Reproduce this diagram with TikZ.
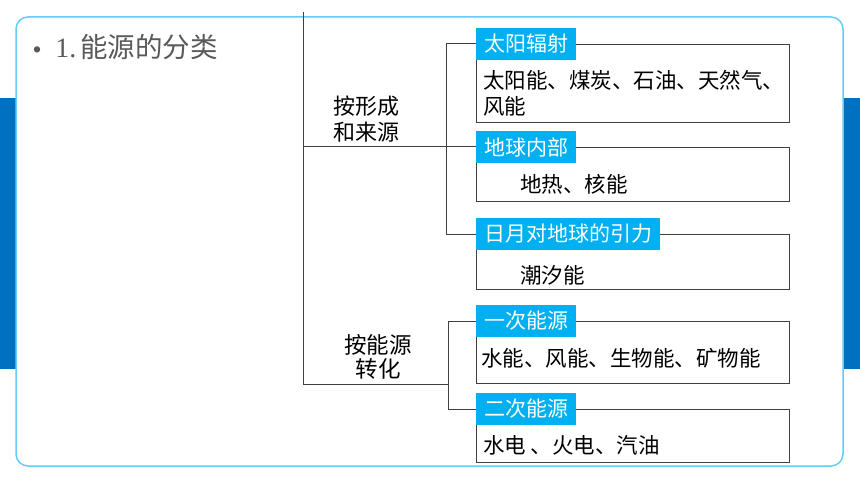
\documentclass[tikz,border=0pt]{standalone}
\usepackage{fontspec}
\setmainfont{Noto Sans CJK SC}
\newfontfamily\serifnum{Liberation Serif}
\newfontfamily\bulletfont{Liberation Sans}
\definecolor{bandblue}{HTML}{0070C0}
\definecolor{frameblue}{HTML}{66CCF5}
\definecolor{labblue}{HTML}{00B0F0}
\definecolor{linegray}{HTML}{404040}
\definecolor{titlegray}{HTML}{595959}
\tikzset{
 catbox/.style={draw=linegray, line width=1pt, minimum width=313pt, inner sep=0pt, anchor=north west},
 lab/.style={fill=labblue, text=white, font=\fontsize{21}{21}\selectfont, inner xsep=8pt, inner ysep=0pt, minimum height=32pt, anchor=west},
 item/.style={font=\fontsize{21.5}{26}\selectfont, inner sep=0pt, anchor=west, align=left, text=black},
 cat/.style={font=\fontsize{22}{26}\selectfont, inner sep=0pt, align=center, text=black},
 tree/.style={draw=linegray, line width=1pt}
}
\begin{document}
\begin{tikzpicture}[x=1pt,y=-1pt]
\fill[white] (0,0) rectangle (860,484);
\useasboundingbox (0,0) rectangle (860,484);
% side bands and frame
\fill[bandblue] (0,98) rectangle (16,369);
\fill[bandblue] (843,98) rectangle (860,369);
\draw[frameblue, line width=1.5pt, fill=white, rounded corners=12pt] (16,17) rectangle (843,466);
% title
\node[anchor=base west, inner sep=0pt, text=titlegray, font=\fontsize{27.5}{30}\selectfont] (title) at (33,58)
  {{\bulletfont\fontsize{23}{23}\selectfont •}\hspace{14pt}{\serifnum\fontsize{28}{30}\selectfont 1.}\hspace{4pt}能源的分类};
% boxes
\node[catbox, minimum height=78pt] (b1) at (476,44) {};
\node[catbox, minimum height=54pt] (b2) at (476,147) {};
\node[catbox, minimum height=55pt] (b3) at (476,234) {};
\node[catbox, minimum height=62pt] (b4) at (476,321) {};
\node[catbox, minimum height=53pt] (b5) at (476,409) {};
% box texts
\node[item] (t1) at (483,93) {太阳能、煤炭、石油、天然气、\\风能};
\node[item] (t2) at (520,184) {地热、核能};
\node[item] (t3) at (520,275) {潮汐能};
\node[item] (t4) at (481,358) {水能、风能、生物能、矿物能};
\node[item] (t5) at (483,445) {水电 、火电、汽油};
% category texts
\node[cat] (c1) at (366,119) {按形成\\和来源};
\node[cat, font=\fontsize{22.5}{24}\selectfont] (c2) at (378,357) {按能源\\转化};
% labels
\node[lab] (l1) at (b1.north west) {太阳辐射};
\node[lab] (l2) at (b2.north west) {地球内部};
\node[lab] (l3) at (b3.north west) {日月对地球的引力};
\node[lab] (l4) at (b4.north west) {一次能源};
\node[lab] (l5) at (b5.north west) {二次能源};
% tree
\coordinate (rt) at (303,12);
\coordinate (rb) at (303,384);
\coordinate (x1) at (446,0);
\coordinate (x2) at (448,0);
\draw[tree] (rt) -- (rb) -- (rb -| x2);
\draw[tree] (rt |- l2.west) -- (l2.west);
\draw[tree] (l1.west) -- (l1.west -| x1) -- (l3.west -| x1) -- (l3.west);
\draw[tree] (l4.west) -- (l4.west -| x2) -- (l5.west -| x2) -- (l5.west);
\end{tikzpicture}
\end{document}
